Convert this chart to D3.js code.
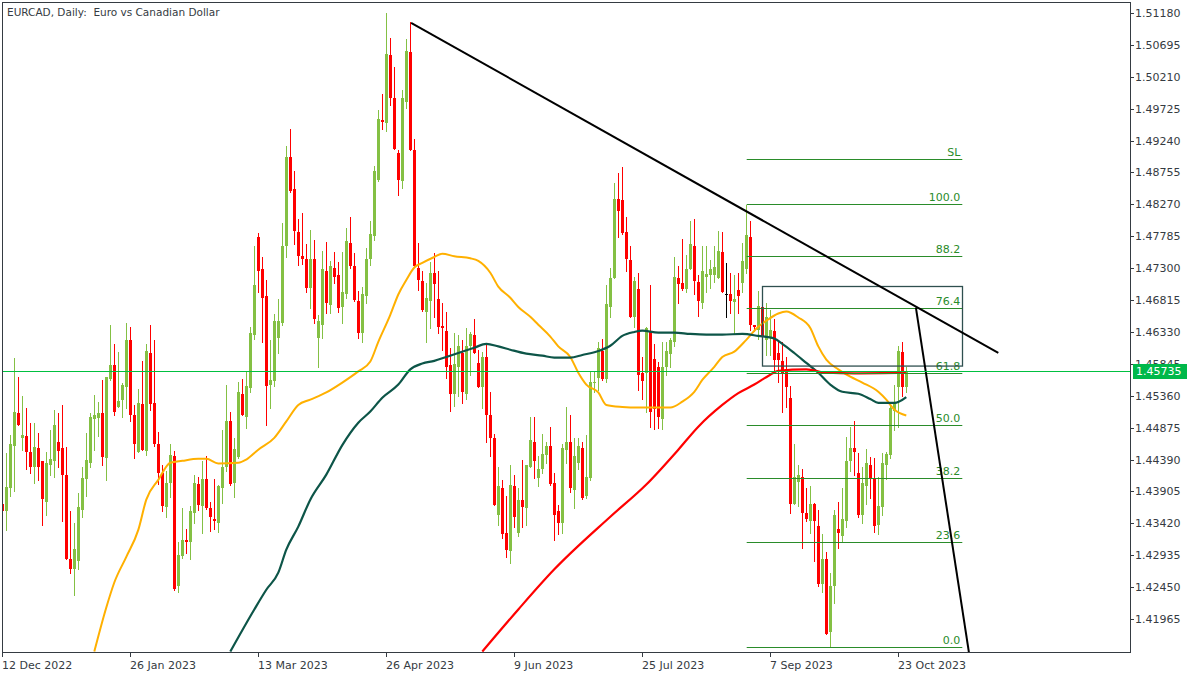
<!DOCTYPE html>
<html><head><meta charset="utf-8">
<script src="https://cdn.jsdelivr.net/npm/d3@7"></script>
<style>body{margin:0;background:#fff}svg{display:block}text{font-family:"DejaVu Sans",sans-serif;font-size:11px}</style>
</head><body><svg id="c" width="1200" height="675"></svg>
<script>
const title = "EURCAD, Daily:  Euro vs Canadian Dollar";
const dateTickIdx = [0,32,64,96,128,160,192,224];
const dateTickLabels = ["12 Dec 2022","26 Jan 2023","13 Mar 2023","26 Apr 2023","9 Jun 2023","25 Jul 2023","7 Sep 2023","23 Oct 2023"];
const priceTicks = [1.41965,1.42450,1.42935,1.43420,1.43905,1.44390,1.44875,1.45360,1.45845,1.46330,1.46815,1.47300,1.47785,1.48270,1.48755,1.49240,1.49725,1.50210,1.50695,1.51180];
// daily candles [open, high, low, close]
const ohlc = [
[1.4372,1.4373,1.4360,1.4361],[1.4361,1.4449,1.4332,1.4397],[1.4396,1.4476,1.4384,1.4463],[1.4460,1.4594,1.4391,1.4512],
[1.4510,1.4564,1.4491,1.4491],[1.4472,1.4536,1.4454,1.4476],[1.4475,1.4518,1.4425,1.4451],[1.4451,1.4495,1.4419,1.4428],
[1.4427,1.4495,1.4403,1.4458],[1.4457,1.4479,1.4408,1.4427],[1.4436,1.4436,1.4339,1.4379],[1.4375,1.4451,1.4355,1.4434],
[1.4430,1.4484,1.4415,1.4440],[1.4437,1.4515,1.4413,1.4491],[1.4466,1.4510,1.4427,1.4452],[1.4457,1.4522,1.4345,1.4416],
[1.4416,1.4458,1.4287,1.4287],[1.4288,1.4361,1.4267,1.4273],[1.4273,1.4342,1.4233,1.4303],[1.4284,1.4388,1.4273,1.4367],
[1.4363,1.4427,1.4351,1.4411],[1.4410,1.4479,1.4384,1.4439],[1.4434,1.4509,1.4428,1.4503],[1.4500,1.4537,1.4454,1.4506],
[1.4502,1.4527,1.4475,1.4510],[1.4509,1.4560,1.4430,1.4443],[1.4442,1.4565,1.4408,1.4564],[1.4562,1.4643,1.4560,1.4583],
[1.4583,1.4615,1.4506,1.4512],[1.4519,1.4603,1.4519,1.4528],[1.4530,1.4555,1.4503,1.4552],[1.4549,1.4646,1.4518,1.4621],
[1.4620,1.4641,1.4498,1.4506],[1.4506,1.4522,1.4442,1.4463],[1.4451,1.4546,1.4451,1.4525],[1.4524,1.4589,1.4454,1.4454],
[1.4452,1.4614,1.4446,1.4604],[1.4601,1.4644,1.4515,1.4524],[1.4525,1.4620,1.4460,1.4462],[1.4462,1.4481,1.4402,1.4419],
[1.4419,1.4430,1.4360,1.4369],[1.4367,1.4421,1.4352,1.4403],[1.4403,1.4463,1.4382,1.4446],[1.4445,1.4452,1.4241,1.4242],
[1.4247,1.4314,1.4238,1.4294],[1.4293,1.4366,1.4290,1.4316],[1.4316,1.4334,1.4297,1.4313],[1.4313,1.4369,1.4288,1.4360],
[1.4358,1.4416,1.4343,1.4403],[1.4402,1.4413,1.4363,1.4370],[1.4369,1.4436,1.4328,1.4410],[1.4410,1.4445,1.4364,1.4366],
[1.4366,1.4375,1.4331,1.4352],[1.4349,1.4410,1.4334,1.4346],[1.4343,1.4401,1.4329,1.4399],[1.4396,1.4484,1.4373,1.4428],
[1.4428,1.4552,1.4421,1.4498],[1.4498,1.4512,1.4401,1.4402],[1.4403,1.4472,1.4382,1.4455],[1.4443,1.4557,1.4442,1.4541],
[1.4538,1.4562,1.4506,1.4506],[1.4504,1.4573,1.4487,1.4551],[1.4548,1.4641,1.4541,1.4632],[1.4629,1.4763,1.4623,1.4705],
[1.4778,1.4784,1.4693,1.4725],[1.4728,1.4747,1.4618,1.4685],[1.4687,1.4712,1.4491,1.4551],[1.4552,1.4620,1.4518,1.4560],
[1.4559,1.4661,1.4551,1.4649],[1.4624,1.4683,1.4601,1.4649],[1.4646,1.4799,1.4644,1.4763],[1.4763,1.4916,1.4747,1.4899],
[1.4899,1.4942,1.4846,1.4848],[1.4851,1.4878,1.4767,1.4787],[1.4785,1.4805,1.4735,1.4749],[1.4749,1.4814,1.4737,1.4744],
[1.4744,1.4766,1.4694,1.4700],[1.4700,1.4788,1.4670,1.4744],[1.4744,1.4773,1.4646,1.4652],[1.4624,1.4659,1.4580,1.4650],
[1.4644,1.4756,1.4624,1.4729],[1.4726,1.4770,1.4662,1.4677],[1.4674,1.4741,1.4662,1.4734],[1.4731,1.4755,1.4708,1.4717],
[1.4720,1.4740,1.4664,1.4670],[1.4671,1.4755,1.4647,1.4693],[1.4690,1.4791,1.4685,1.4772],[1.4769,1.4808,1.4731,1.4734],
[1.4734,1.4753,1.4680,1.4682],[1.4680,1.4696,1.4624,1.4632],[1.4632,1.4702,1.4617,1.4690],[1.4688,1.4761,1.4677,1.4744],
[1.4744,1.4802,1.4735,1.4782],[1.4779,1.4886,1.4773,1.4878],[1.4864,1.4971,1.4863,1.4957],[1.4956,1.4995,1.4942,1.4953],
[1.4951,1.5118,1.4939,1.5056],[1.5054,1.5080,1.4978,1.4989],[1.4988,1.5036,1.4911,1.4911],[1.4905,1.4910,1.4842,1.4864],
[1.4863,1.5001,1.4852,1.4988],[1.4983,1.5079,1.4974,1.5060],[1.5059,1.5105,1.4910,1.4910],[1.4910,1.4927,1.4732,1.4734],
[1.4731,1.4769,1.4697,1.4712],[1.4711,1.4725,1.4665,1.4667],[1.4664,1.4708,1.4618,1.4685],[1.4680,1.4740,1.4639,1.4723],
[1.4723,1.4753,1.4655,1.4706],[1.4683,1.4725,1.4632,1.4641],[1.4642,1.4677,1.4606,1.4639],[1.4635,1.4664,1.4563,1.4580],
[1.4582,1.4608,1.4513,1.4539],[1.4539,1.4632,1.4521,1.4585],[1.4579,1.4629,1.4535,1.4611],[1.4601,1.4620,1.4525,1.4541],
[1.4539,1.4639,1.4531,1.4612],[1.4611,1.4633,1.4568,1.4630],[1.4629,1.4652,1.4601,1.4601],[1.4586,1.4606,1.4550,1.4550],
[1.4550,1.4603,1.4518,1.4595],[1.4595,1.4614,1.4465,1.4507],[1.4506,1.4541,1.4445,1.4471],[1.4471,1.4478,1.4370,1.4370],
[1.4355,1.4427,1.4340,1.4399],[1.4395,1.4408,1.4319,1.4326],[1.4328,1.4383,1.4291,1.4302],[1.4300,1.4430,1.4282,1.4401],
[1.4399,1.4416,1.4337,1.4351],[1.4328,1.4396,1.4323,1.4378],[1.4377,1.4439,1.4337,1.4367],[1.4366,1.4430,1.4340,1.4430],
[1.4428,1.4503,1.4427,1.4468],[1.4466,1.4504,1.4411,1.4437],[1.4411,1.4445,1.4398,1.4425],[1.4424,1.4478,1.4419,1.4448],
[1.4446,1.4465,1.4433,1.4460],[1.4460,1.4489,1.4401,1.4402],[1.4404,1.4418,1.4317,1.4355],[1.4361,1.4370,1.4326,1.4343],
[1.4342,1.4463,1.4328,1.4457],[1.4454,1.4519,1.4434,1.4466],[1.4465,1.4507,1.4390,1.4396],[1.4393,1.4472,1.4366,1.4445],
[1.4434,1.4472,1.4424,1.4460],[1.4457,1.4465,1.4379,1.4381],[1.4383,1.4476,1.4381,1.4413],[1.4411,1.4574,1.4408,1.4557],
[1.4555,1.4573,1.4541,1.4557],[1.4563,1.4617,1.4545,1.4608],[1.4604,1.4623,1.4560,1.4562],[1.4562,1.4705,1.4557,1.4676],
[1.4671,1.4731,1.4656,1.4715],[1.4715,1.4860,1.4715,1.4835],[1.4835,1.4875,1.4778,1.4817],[1.4834,1.4884,1.4782,1.4784],
[1.4785,1.4808,1.4726,1.4744],[1.4743,1.4763,1.4655,1.4656],[1.4656,1.4717,1.4641,1.4711],[1.4699,1.4723,1.4545,1.4568],
[1.4570,1.4595,1.4531,1.4559],[1.4570,1.4641,1.4512,1.4639],[1.4633,1.4705,1.4489,1.4512],[1.4592,1.4614,1.4486,1.4516],
[1.4579,1.4588,1.4487,1.4503],[1.4501,1.4618,1.4486,1.4579],[1.4579,1.4617,1.4568,1.4604],[1.4600,1.4624,1.4580,1.4620],
[1.4617,1.4747,1.4611,1.4717],[1.4715,1.4734,1.4677,1.4706],[1.4708,1.4775,1.4697,1.4699],[1.4699,1.4750,1.4693,1.4729],
[1.4728,1.4801,1.4728,1.4766],[1.4763,1.4804,1.4690,1.4711],[1.4709,1.4720,1.4658,1.4680],[1.4677,1.4763,1.4670,1.4725],
[1.4717,1.4763,1.4694,1.4721],[1.4720,1.4743,1.4700,1.4728],[1.4720,1.4763,1.4709,1.4732],[1.4715,1.4787,1.4715,1.4756],
[1.4755,1.4785,1.4693,1.4694],[1.4691,1.4738,1.4656,1.4691],[1.4690,1.4723,1.4662,1.4680],[1.4679,1.4720,1.4632,1.4683],
[1.4697,1.4723,1.4662,1.4688],[1.4708,1.4769,1.4694,1.4741],[1.4728,1.4826,1.4723,1.4781],[1.4778,1.4801,1.4636,1.4644],
[1.4644,1.4644,1.4635,1.4641],[1.4636,1.4696,1.4623,1.4673],[1.4671,1.4687,1.4606,1.4626],[1.4621,1.4677,1.4598,1.4655],
[1.4624,1.4667,1.4598,1.4636],[1.4635,1.4652,1.4571,1.4591],[1.4601,1.4617,1.4557,1.4591],[1.4589,1.4617,1.4512,1.4571],
[1.4576,1.4595,1.4519,1.4550],[1.4533,1.4551,1.4358,1.4372],[1.4372,1.4462,1.4372,1.4413],[1.4405,1.4431,1.4369,1.4416],
[1.4413,1.4424,1.4305,1.4358],[1.4357,1.4396,1.4345,1.4348],[1.4346,1.4398,1.4328,1.4372],[1.4372,1.4373,1.4285,1.4345],
[1.4338,1.4363,1.4246,1.4249],[1.4249,1.4326,1.4238,1.4287],[1.4287,1.4299,1.4173,1.4174],[1.4176,1.4267,1.4155,1.4247],
[1.4246,1.4363,1.4221,1.4354],[1.4334,1.4375,1.4305,1.4328],[1.4323,1.4396,1.4313,1.4348],[1.4345,1.4474,1.4337,1.4436],
[1.4436,1.4489,1.4421,1.4457],[1.4457,1.4498,1.4416,1.4451],[1.4419,1.4449,1.4351,1.4355],[1.4355,1.4427,1.4343,1.4404],
[1.4398,1.4455,1.4372,1.4433],[1.4431,1.4443,1.4381,1.4411],[1.4411,1.4442,1.4329,1.4338],[1.4340,1.4413,1.4325,1.4369],
[1.4367,1.4449,1.4354,1.4433],[1.4431,1.4451,1.4410,1.4448],[1.4446,1.4525,1.4442,1.4518],[1.4513,1.4553,1.4484,1.4525],
[1.4550,1.4611,1.4489,1.4604],[1.4603,1.4618,1.4535,1.4550],[1.4550,1.4579,1.4542,1.45735]
];
// moving averages: [bar index, value]
const maOrange = [[23,1.4147],[26,1.4214],[28,1.4252],[31,1.4291],[34,1.4332],[36,1.4378],[39,1.4408],[42,1.4434],[45,1.4437],[49,1.4440],[51,1.4440],[54,1.4433],[59,1.4434],[61,1.4439],[64,1.4454],[68,1.4472],[71,1.4497],[74,1.4522],[77,1.4530],[81,1.4541],[85,1.4556],[89,1.4573],[92,1.4588],[94,1.4618],[97,1.4659],[99,1.4690],[101,1.4712],[103,1.4731],[105,1.4738],[108,1.4747],[110,1.4752],[113,1.4748],[117,1.4745],[119,1.4741],[122,1.4723],[124,1.4702],[127,1.4685],[129,1.4671],[132,1.4656],[134,1.4644],[137,1.4626],[139,1.4611],[142,1.4595],[144,1.4571],[146,1.4553],[149,1.4541],[151,1.4522],[155,1.4519],[159,1.4518],[164,1.4518],[167,1.4518],[170,1.4527],[173,1.4542],[175,1.4560],[178,1.4580],[180,1.4595],[183,1.4603],[186,1.4621],[189,1.4641],[191,1.4650],[194,1.4661],[196,1.4664],[199,1.4655],[202,1.4639],[204,1.4611],[206,1.4591],[209,1.4576],[212,1.4565],[215,1.4556],[219,1.4542],[221,1.4530],[223,1.4515],[226,1.4506]];
const maTeal = [[57,1.4147],[63,1.4211],[66,1.4241],[69,1.4267],[71,1.4302],[74,1.4337],[77,1.4378],[81,1.4416],[85,1.4461],[89,1.4495],[92,1.4512],[95,1.4533],[99,1.4553],[102,1.4576],[105,1.4585],[108,1.4589],[111,1.4595],[114,1.4601],[118,1.4609],[121,1.4615],[124,1.4611],[127,1.4606],[131,1.4600],[135,1.4597],[138,1.4594],[142,1.4594],[145,1.4598],[149,1.4604],[152,1.4612],[155,1.4627],[158,1.4633],[160,1.4635],[164,1.4632],[168,1.4632],[172,1.4630],[176,1.4629],[180,1.4629],[185,1.4630],[189,1.4627],[193,1.4623],[195,1.4615],[198,1.4601],[201,1.4586],[204,1.4571],[207,1.4553],[210,1.4542],[214,1.4539],[217,1.4531],[219,1.4525],[223,1.4525],[226,1.4534]];
const maRed = [[120,1.4147],[129,1.4211],[138,1.4272],[152,1.4352],[161,1.4401],[169,1.4454],[174,1.4489],[180,1.4522],[184,1.4540],[188,1.4553],[192,1.4568],[194,1.4574],[201,1.4576],[206,1.4571],[213,1.4570],[226,1.4571]];
const trendA = [[102.2,1.5103],[249,1.4601]];
const trendB = [[228.4,1.4670],[241.8,1.4140]];
const fibLevels = [0,23.6,38.2,50,61.8,76.4,88.2,100,110];
const fibLabels = ["0.0","23.6","38.2","50.0","61.8","76.4","88.2","100.0","SL"];
const fibLow = 1.4154, fibHigh = 1.4828, fibIdx = [186.1, 240];
const boxIdx = [190, 240], boxPrice = [1.4703, 1.4582];
const lastPrice = 1.45735;

const svg = d3.select("#c");
const PL=2, PR=1130, PT=2, PB=652;
const x = d3.scaleLinear().domain([0,282]).range([2.3,1130.3]);
const y = d3.scaleLinear().domain([1.41965,1.51180]).range([619,13]);
const GREEN="#84c044", RED="#ff0000";

svg.append("rect").attr("width",1200).attr("height",675).attr("fill","#fff");
svg.append("clipPath").attr("id","clip").append("rect").attr("x",PL).attr("y",PT).attr("width",PR-PL).attr("height",PB-PT);
const g = svg.append("g").attr("clip-path","url(#clip)");

// candles
const cg = g.append("g");
ohlc.forEach((d,i)=>{
  const [o,h,l,c]=d;
  const cx=Math.round(x(i));
  const col = c>o?GREEN:(c<o?RED:"#000");
  cg.append("line").attr("x1",cx+0.5).attr("x2",cx+0.5).attr("y1",Math.round(y(h))).attr("y2",Math.round(y(l))+1).attr("stroke",col).attr("stroke-width",1);
  const t=Math.round(y(Math.max(o,c))), b=Math.round(y(Math.min(o,c)));
  cg.append("rect").attr("x",cx-1).attr("y",t).attr("width",3).attr("height",Math.max(1,b-t)).attr("fill",col);
});

// moving averages
const line = d3.line().x(d=>x(d[0])).y(d=>y(d[1])).curve(d3.curveMonotoneX);
g.append("path").datum(maOrange).attr("d",line).attr("fill","none").attr("stroke","#ffb000").attr("stroke-width",2);
g.append("path").datum(maTeal).attr("d",line).attr("fill","none").attr("stroke","#0d5548").attr("stroke-width",2.2);
g.append("path").datum(maRed).attr("d",line).attr("fill","none").attr("stroke","#ff0000").attr("stroke-width",2.2);

// fibonacci
const fibG = g.append("g");
fibLevels.forEach((lv,i)=>{
  const p = fibLow + (fibHigh-fibLow)*lv/100;
  const yy = Math.round(y(p))+0.5;
  fibG.append("line").attr("x1",x(fibIdx[0])).attr("x2",x(fibIdx[1])).attr("y1",yy).attr("y2",yy).attr("stroke","#2a8c2a").attr("stroke-width",1);
  fibG.append("text").attr("x",x(fibIdx[1])-2).attr("y",yy-3.5).attr("text-anchor","end").attr("fill","#2a8c2a").text(fibLabels[i]);
});
// rectangle
g.append("rect").attr("x",Math.round(x(boxIdx[0]))+0.5).attr("y",Math.round(y(boxPrice[0]))+0.5)
  .attr("width",x(boxIdx[1])-x(boxIdx[0])).attr("height",y(boxPrice[1])-y(boxPrice[0]))
  .attr("fill","none").attr("stroke","#2f4f4f").attr("stroke-width",1.3);
// trendlines
[trendA,trendB].forEach(t=>{
  g.append("line").attr("x1",x(t[0][0])).attr("y1",y(t[0][1])).attr("x2",x(t[1][0])).attr("y2",y(t[1][1]))
   .attr("stroke","#000").attr("stroke-width",2);
});
// last price line
const ly = Math.round(y(lastPrice))+0.5;
g.append("line").attr("x1",PL).attr("x2",PR).attr("y1",ly).attr("y2",ly).attr("stroke","#00c040").attr("stroke-width",1);

// frame
svg.append("rect").attr("x",PL+0.5).attr("y",PT+0.5).attr("width",PR-PL).attr("height",PB-PT).attr("fill","none").attr("stroke","#353b42").attr("stroke-width",1);

// price axis
const pa = svg.append("g");
priceTicks.forEach(p=>{
  const yy=Math.round(y(p))+0.5;
  pa.append("line").attr("x1",PR).attr("x2",PR+4).attr("y1",yy).attr("y2",yy).attr("stroke","#353b42");
  pa.append("text").attr("x",PR+5).attr("y",yy).attr("dy","0.36em").attr("fill","#353b42").text(p.toFixed(5));
});
// last price label (covers the tick label under it, as in the reference)
svg.append("rect").attr("x",PR+3).attr("y",ly-7.5).attr("width",54).attr("height",15).attr("fill","#00b84a");
svg.append("text").attr("x",PR+6).attr("y",ly).attr("dy","0.36em").attr("fill","#fff").text(lastPrice.toFixed(5));

// date axis
const da = svg.append("g");
dateTickIdx.forEach((k,i)=>{
  const xx=Math.round(x(k))+0.5;
  da.append("line").attr("x1",xx).attr("x2",xx).attr("y1",PB).attr("y2",PB+5).attr("stroke","#353b42");
  da.append("text").attr("x",xx-0.5).attr("y",669).attr("fill","#353b42").text(dateTickLabels[i]);
});

// title
svg.append("text").attr("x",7).attr("y",16).attr("fill","#353b42").style("white-space","pre").style("font-size","10.5px").text(title);
</script></body></html>
